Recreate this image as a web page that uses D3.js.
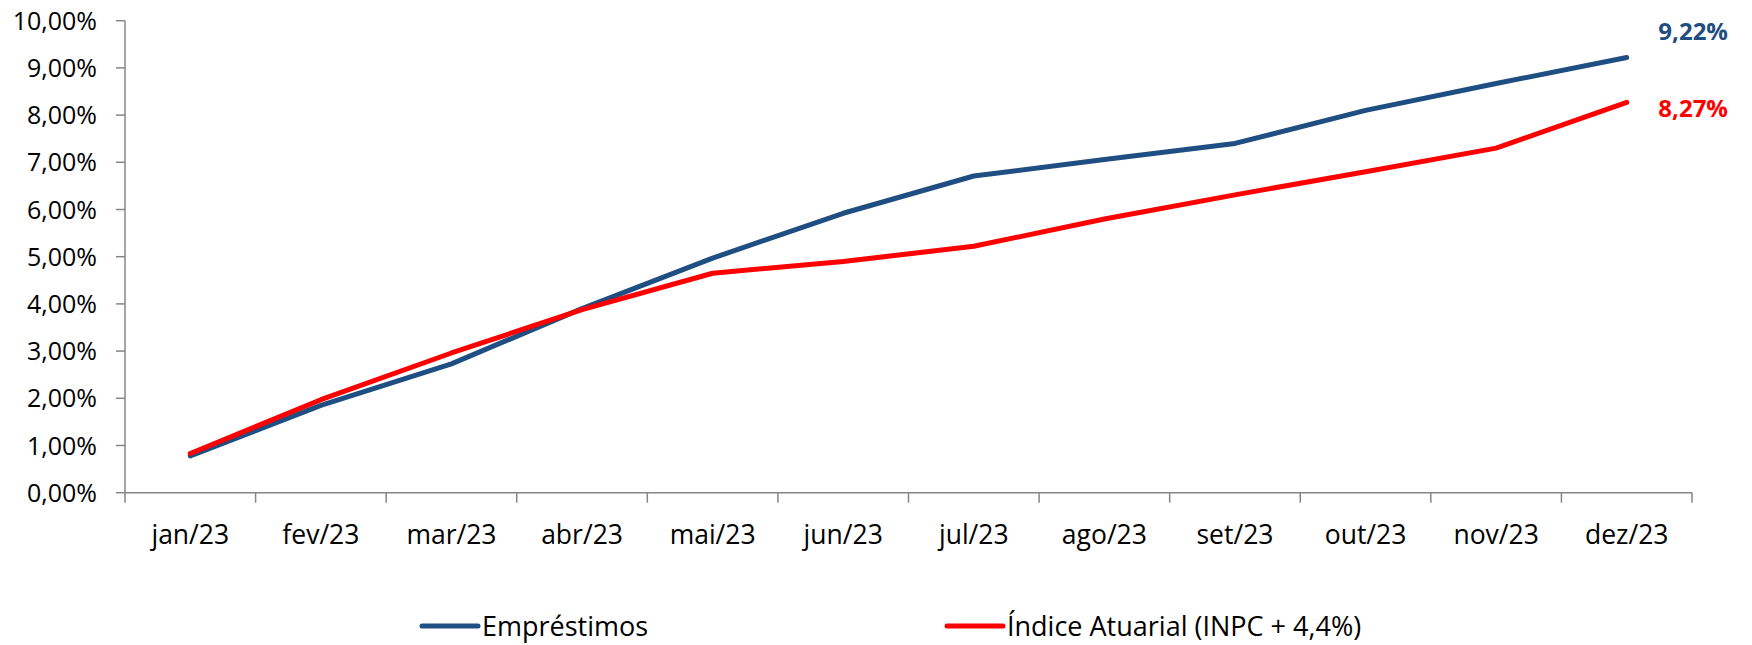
<!DOCTYPE html>
<html>
<head>
<meta charset="utf-8">
<script src="https://cdn.jsdelivr.net/npm/d3@7"></script>
<style>
  html, body { margin: 0; padding: 0; background: #ffffff; }
  svg { display: block; font-family: "Open Sans", "Liberation Sans", sans-serif; }
</style>
</head>
<body>
<svg id="chart" width="1752" height="645"></svg>
<script>
// ---- data ----
const months = ["jan/23","fev/23","mar/23","abr/23","mai/23","jun/23","jul/23","ago/23","set/23","out/23","nov/23","dez/23"];
const emprestimos = [0.78, 1.85, 2.73, 3.90, 4.97, 5.92, 6.71, 7.06, 7.40, 8.10, 8.67, 9.22];
const indiceAtuarial = [0.83, 1.97, 2.96, 3.88, 4.65, 4.90, 5.22, 5.80, 6.31, 6.80, 7.30, 8.27];
const seriesNames = ["Empréstimos", "Índice Atuarial (INPC + 4,4%)"];
const yTicks = [0,1,2,3,4,5,6,7,8,9,10];

const colors = ["#1F4E82", "#FF0000"];

const locale = d3.formatLocale({decimal: ",", thousands: ".", grouping: [3], currency: ["R$", ""]});
const fmt = v => locale.format(".2f")(v) + "%";

const svg = d3.select("#chart");
const x = d3.scaleBand().domain(months).range([125, 1692]).padding(0);
const y = d3.scaleLinear().domain([0, 10]).range([492.7, 20.7]);
const cx = m => x(m) + x.bandwidth() / 2;
const axisColor = "#868686";

// y axis
const yAxis = svg.append("g");
yAxis.append("line").attr("x1", 125).attr("x2", 125).attr("y1", y(0)).attr("y2", y(10))
  .attr("stroke", axisColor).attr("stroke-width", 1.5);
yAxis.selectAll("line.tick").data(yTicks).join("line").attr("class", "tick")
  .attr("x1", 116).attr("x2", 125).attr("y1", d => y(d)).attr("y2", d => y(d))
  .attr("stroke", axisColor).attr("stroke-width", 1.5);
yAxis.selectAll("text").data(yTicks).join("text")
  .attr("x", 97).attr("y", d => y(d) + 9).attr("text-anchor", "end")
  .attr("font-size", 25).attr("fill", "#000").text(d => fmt(d));

// x axis
const xAxis = svg.append("g");
xAxis.append("line").attr("x1", x.range()[0]).attr("x2", x.range()[1]).attr("y1", y(0)).attr("y2", y(0))
  .attr("stroke", axisColor).attr("stroke-width", 1.5);
const edges = months.map(m => x(m)).concat([x.range()[1]]);
xAxis.selectAll("line.tick").data(edges).join("line").attr("class", "tick")
  .attr("x1", d => d).attr("x2", d => d).attr("y1", y(0)).attr("y2", y(0) + 10)
  .attr("stroke", axisColor).attr("stroke-width", 1.5);
xAxis.selectAll("text").data(months).join("text")
  .attr("x", d => cx(d)).attr("y", 544).attr("text-anchor", "middle")
  .attr("font-size", 26.5).attr("fill", "#000").text(d => d);

// lines
const line = d3.line().x((d, i) => cx(months[i])).y(d => y(d));
[emprestimos, indiceAtuarial].forEach((s, k) => {
  svg.append("path").datum(s).attr("d", line).attr("fill", "none")
    .attr("stroke", colors[k]).attr("stroke-width", 5)
    .attr("stroke-linejoin", "round").attr("stroke-linecap", "round");
});

// end labels
const lastIdx = months.length - 1;
[emprestimos, indiceAtuarial].forEach((s, k) => {
  svg.append("text").attr("x", 1728).attr("y", y(s[lastIdx]) + [-17.5, 15][k])
    .attr("text-anchor", "end").attr("font-size", 24).attr("font-weight", "bold")
    .attr("fill", colors[k]).text(fmt(s[lastIdx]));
});

// legend
const legendX = [422, 947];
const legY = 626;
seriesNames.forEach((name, k) => {
  svg.append("line").attr("x1", legendX[k]).attr("x2", legendX[k] + 56)
    .attr("y1", legY).attr("y2", legY).attr("stroke", colors[k]).attr("stroke-width", 5)
    .attr("stroke-linecap", "round");
  svg.append("text").attr("x", legendX[k] + 60).attr("y", legY + 10)
    .attr("font-size", 27).attr("fill", "#000").text(name);
});
</script>
</body>
</html>
